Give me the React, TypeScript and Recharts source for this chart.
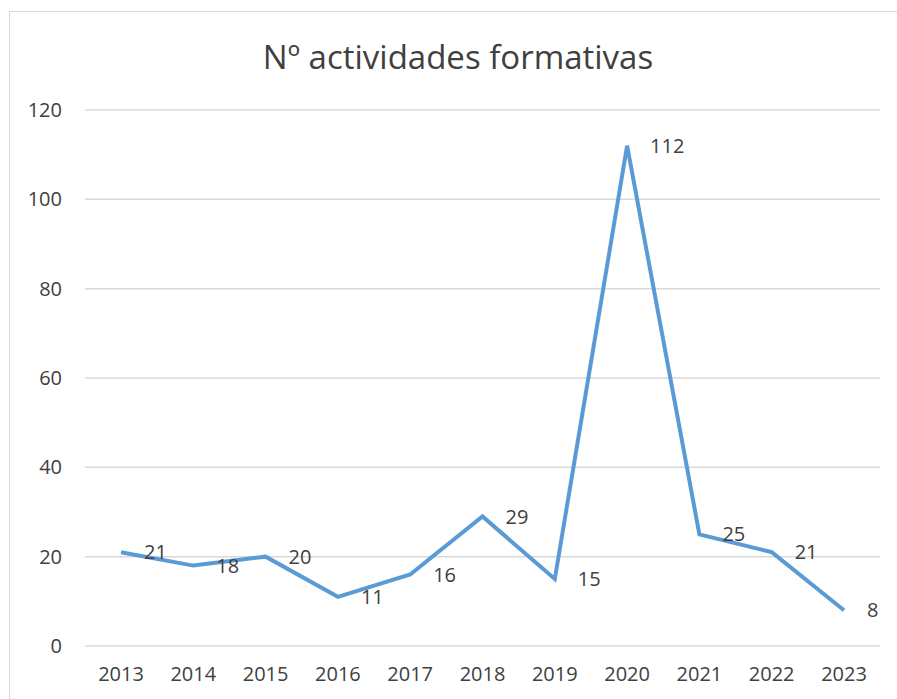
import { CartesianGrid, LabelList, Line, LineChart, XAxis, YAxis } from 'recharts';

const years = ['2013', '2014', '2015', '2016', '2017', '2018', '2019', '2020', '2021', '2022', '2023'];
const activities = [21, 18, 20, 11, 16, 29, 15, 112, 25, 21, 8];
const yTicks = [0, 20, 40, 60, 80, 100, 120];

const FONT = '"Open Sans", "Liberation Sans", sans-serif';
const TEXT = '#404040';

export default function App() {
    const data = years.map((year, i) => ({ year, value: activities[i] }));

    return (
        <div style={{ position: 'absolute', left: 0, top: 0, width: 897, height: 699, overflow: 'hidden', background: '#fff' }}>
            {/* chart frame runs off the right and bottom edges */}
            <div style={{ position: 'absolute', left: 9, top: 11, width: 920, height: 720, border: '1px solid #d9d9d9' }} />
            <div style={{ position: 'absolute', left: 0, width: 916, top: 35, textAlign: 'center', fontFamily: FONT, fontSize: 33, color: TEXT, lineHeight: '44px' }}>
                Nº actividades formativas
            </div>
            <div style={{ position: 'absolute', left: 0, top: 0 }}>
                <LineChart width={897} height={699} data={data} margin={{ top: 110, right: 17, bottom: 0, left: 0 }}>
                    <CartesianGrid vertical={false} stroke="#d9d9d9" strokeWidth={1.5} />
                    <XAxis
                        dataKey="year"
                        height={53}
                        axisLine={false}
                        tickLine={false}
                        tickSize={0}
                        tickMargin={21}
                        padding={{ left: 36, right: 36 }}
                        interval={0}
                        tick={{ fill: TEXT, fontSize: 20, fontFamily: FONT }}
                    />
                    <YAxis
                        width={85}
                        domain={[0, 120]}
                        ticks={yTicks}
                        axisLine={false}
                        tickLine={false}
                        tickSize={0}
                        tickMargin={23}
                        tick={{ fill: TEXT, fontSize: 20, fontFamily: FONT }}
                    />
                    <Line
                        type="linear"
                        dataKey="value"
                        stroke="#5b9bd5"
                        strokeWidth={4}
                        dot={false}
                        isAnimationActive={false}
                    >
                        <LabelList dataKey="value" position="right" offset={23} fill={TEXT} fontSize={20} fontFamily={FONT} />
                    </Line>
                </LineChart>
            </div>
        </div>
    );
}
